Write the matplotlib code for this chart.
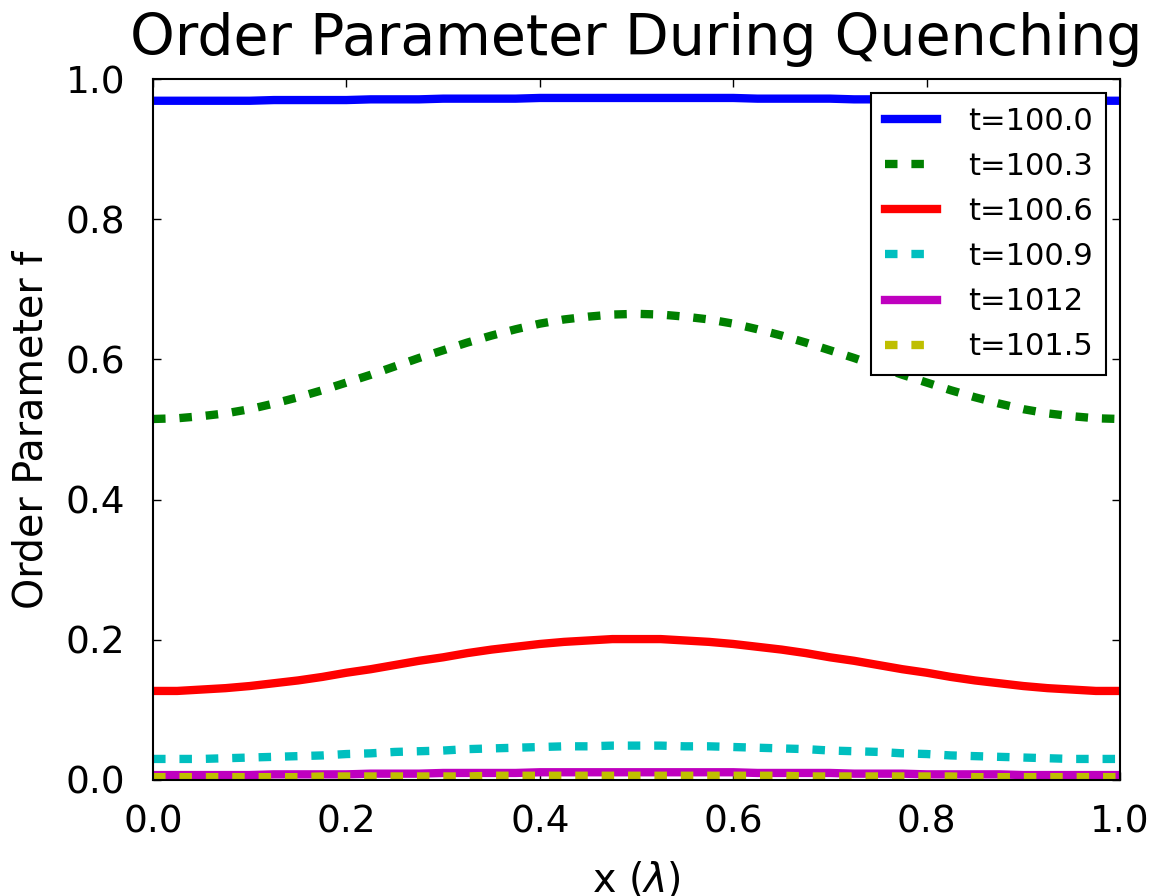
import matplotlib
matplotlib.use("Agg")
import matplotlib.pyplot as plt

plt.rcParams["lines.scale_dashes"] = False

# positions along the sample, in units of lambda
x = [0.0, 0.025, 0.05, 0.075, 0.1, 0.125, 0.15, 0.175, 0.2, 0.225, 0.25,
     0.275, 0.3, 0.325, 0.35, 0.375, 0.4, 0.425, 0.45, 0.475, 0.5,
     0.525, 0.55, 0.575, 0.6, 0.625, 0.65, 0.675, 0.7, 0.725, 0.75,
     0.775, 0.8, 0.825, 0.85, 0.875, 0.9, 0.925, 0.95, 0.975, 1.0]

f_100_0 = [0.969, 0.969, 0.969, 0.969, 0.969, 0.970, 0.970, 0.970, 0.970, 0.971, 0.971,
           0.971, 0.972, 0.972, 0.972, 0.972, 0.973, 0.973, 0.973, 0.973, 0.973,
           0.973, 0.973, 0.973, 0.973, 0.972, 0.972, 0.972, 0.972, 0.971, 0.971,
           0.971, 0.970, 0.970, 0.970, 0.970, 0.969, 0.969, 0.969, 0.969, 0.969]
f_100_3 = [0.515, 0.516, 0.519, 0.523, 0.529, 0.537, 0.546, 0.556, 0.567, 0.578, 0.590,
           0.602, 0.613, 0.624, 0.634, 0.643, 0.651, 0.657, 0.661, 0.664, 0.665,
           0.664, 0.661, 0.657, 0.651, 0.643, 0.634, 0.624, 0.613, 0.602, 0.590,
           0.578, 0.567, 0.556, 0.546, 0.537, 0.529, 0.523, 0.519, 0.516, 0.515]
f_100_6 = [0.127, 0.127, 0.129, 0.131, 0.134, 0.138, 0.142, 0.147, 0.153, 0.158, 0.164,
           0.170, 0.175, 0.181, 0.186, 0.190, 0.194, 0.197, 0.199, 0.201, 0.201,
           0.201, 0.199, 0.197, 0.194, 0.190, 0.186, 0.181, 0.175, 0.170, 0.164,
           0.158, 0.153, 0.147, 0.142, 0.138, 0.134, 0.131, 0.129, 0.127, 0.127]
f_100_9 = [0.030, 0.030, 0.030, 0.031, 0.032, 0.033, 0.034, 0.035, 0.037, 0.038, 0.040,
           0.041, 0.042, 0.044, 0.045, 0.046, 0.047, 0.048, 0.048, 0.049, 0.049,
           0.049, 0.048, 0.048, 0.047, 0.046, 0.045, 0.044, 0.042, 0.041, 0.040,
           0.038, 0.037, 0.035, 0.034, 0.033, 0.032, 0.031, 0.030, 0.030, 0.030]
f_1012 = [0.007, 0.007, 0.007, 0.007, 0.007, 0.008, 0.008, 0.008, 0.008, 0.009, 0.009,
          0.009, 0.010, 0.010, 0.010, 0.010, 0.011, 0.011, 0.011, 0.011, 0.011,
          0.011, 0.011, 0.011, 0.011, 0.010, 0.010, 0.010, 0.010, 0.009, 0.009,
          0.009, 0.008, 0.008, 0.008, 0.008, 0.007, 0.007, 0.007, 0.007, 0.007]
f_101_5 = [0.004, 0.004, 0.004, 0.004, 0.004, 0.004, 0.004, 0.005, 0.005, 0.005, 0.005,
           0.005, 0.005, 0.005, 0.006, 0.006, 0.006, 0.006, 0.006, 0.006, 0.006,
           0.006, 0.006, 0.006, 0.006, 0.006, 0.006, 0.005, 0.005, 0.005, 0.005,
           0.005, 0.005, 0.005, 0.004, 0.004, 0.004, 0.004, 0.004, 0.004, 0.004]

series = [
    (f_100_0, "t=100.0", "#0000ff", "-"),
    (f_100_3, "t=100.3", "#008000", "--"),
    (f_100_6, "t=100.6", "#ff0000", "-"),
    (f_100_9, "t=100.9", "#00bfbf", "--"),
    (f_1012, "t=1012", "#bf00bf", "-"),
    (f_101_5, "t=101.5", "#bfbf00", "--"),
]

fig = plt.figure(figsize=(11.56, 8.96), dpi=100)
ax = fig.add_axes([0.1324, 0.1295, 0.8365, 0.7823])

for ys, label, color, ls in series:
    line, = ax.plot(x, ys, color=color, lw=6, label=label, linestyle=ls)
    if ls == "--":
        line.set_dashes((9, 10))

ax.set_xlim(0, 1)
ax.set_ylim(0, 1)
ax.set_xticks([0.0, 0.2, 0.4, 0.6, 0.8, 1.0])
ax.set_yticks([0.0, 0.2, 0.4, 0.6, 0.8, 1.0])
ax.tick_params(direction="in", top=True, right=True, length=6, width=1,
               labelsize=27, pad=18)
ax.tick_params(axis="y", pad=20)
for s in ax.spines.values():
    s.set_linewidth(1.5)

ax.set_title("Order Parameter During Quenching", fontsize=41, pad=17)
ax.set_xlabel(r"x ($\lambda$)", fontsize=28.5, labelpad=14)
ax.set_ylabel("Order Parameter f", fontsize=28.5, labelpad=10)

leg = ax.legend(loc="upper right", fontsize=22, fancybox=False, framealpha=1,
                edgecolor="black", handlelength=1.7, borderaxespad=0.45,
                borderpad=0.45, labelspacing=0.53, handletextpad=1.0)
leg.get_frame().set_linewidth(1.5)

fig.savefig("out.png", dpi=100)
